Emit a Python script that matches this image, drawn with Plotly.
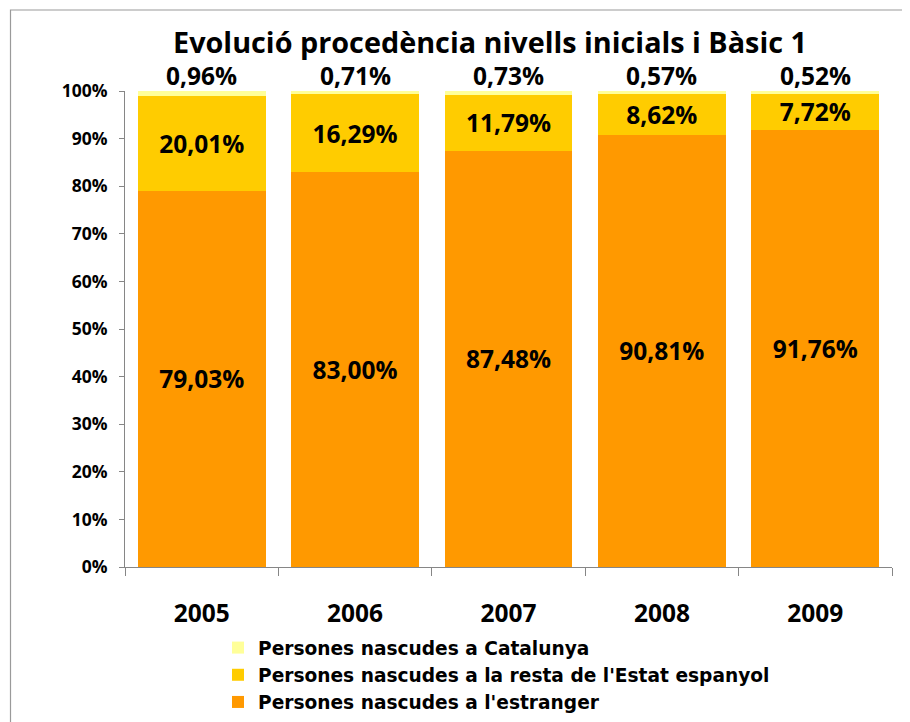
import plotly.graph_objects as go

years = ["2005", "2006", "2007", "2008", "2009"]
estranger = [79.03, 83.00, 87.48, 90.81, 91.76]
resta = [20.01, 16.29, 11.79, 8.62, 7.72]
catalunya = [0.96, 0.71, 0.73, 0.57, 0.52]
y_ticks = [0, 10, 20, 30, 40, 50, 60, 70, 80, 90, 100]

names = ["Persones nascudes a l'estranger",
         "Persones nascudes a la resta de l'Estat espanyol",
         "Persones nascudes a Catalunya"]
colors = ["#FF9900", "#FFCC00", "#FFFF99"]
series = [estranger, resta, catalunya]

FONT = "Open Sans"
OFF = 8  # page body margin
W, H = 910 - OFF, 722 - OFF
ML, MR, MT, MB = 125 - OFF, 18, 91 - OFF, 155
PW, PH = W - ML - MR, H - MT - MB


def fmt(v):
    return f"{v:.2f}".replace(".", ",") + "%"


fig = go.Figure()
for i, (name, col, vals) in enumerate(zip(names, colors, series)):
    inside = i < 2
    fig.add_trace(go.Bar(
        x=years, y=vals, name=name,
        marker=dict(color=col, line=dict(width=0)),
        text=[fmt(v) for v in vals] if inside else None,
        textposition="inside" if inside else "none",
        insidetextanchor="middle",
        constraintext="none",
        textfont=dict(family=FONT, size=24.5, color="black", weight="bold"),
        cliponaxis=False,
        legendgroup=f"g{i}",
        legendrank=3 - i,
        hoverinfo="skip",
    ))

# labels of the top segment, placed just above each stack (x = category index)
totals = [a + b + c for a, b, c in zip(estranger, resta, catalunya)]
annotations = [dict(x=k, y=tot, xref="x", yref="y", text=fmt(v),
                    showarrow=False, yanchor="bottom", yshift=-3,
                    font=dict(family=FONT, size=24.5, color="black", weight="bold"))
               for k, (tot, v) in enumerate(zip(totals, catalunya))]

fig.update_layout(
    width=W, height=H,
    margin=dict(l=ML, r=MR, t=MT, b=MB, pad=0, autoexpand=False),
    paper_bgcolor="white", plot_bgcolor="white",
    barmode="stack", bargap=0.166,
    font=dict(family=FONT, color="black"),
    title=dict(text="<b>Evolució procedència nivells inicials i Bàsic 1</b>",
               x=(490 - OFF) / W, xanchor="center", xref="container",
               y=1 - (43 - OFF) / H, yanchor="middle", yref="container",
               font=dict(family=FONT, size=28.8, color="black")),
    annotations=annotations,
    showlegend=True,
    legend=dict(traceorder="grouped", tracegroupgap=0,
                x=(218 - OFF - ML) / PW, xanchor="left",
                y=-(629 - OFF - (MT + PH)) / PH, yanchor="top",
                font=dict(family="DejaVu Sans", size=18.6, color="black", weight="bold"),
                bgcolor="rgba(0,0,0,0)", borderwidth=0),
    shapes=[dict(type="rect", xref="paper", yref="paper",
                 x0=(10.5 - OFF - ML) / PW, x1=1.05,
                 y0=-0.4, y1=1 + (MT - (10 - OFF)) / PH,
                 line=dict(color="#9a9a9a", width=1.2),
                 fillcolor="rgba(0,0,0,0)", layer="below")],
)

fig.update_xaxes(
    type="category", categoryorder="array", categoryarray=years,
    range=[-0.5, len(years) - 0.5],
    automargin=False,
    showline=True, linecolor="#868686", linewidth=1,
    ticks="outside", tickson="boundaries", ticklen=8, tickcolor="#868686",
    ticklabelstandoff=25,
    tickfont=dict(family=FONT, size=24.5, color="black", weight="bold"),
    showgrid=False, zeroline=False,
)
fig.update_yaxes(
    automargin=False,
    range=[0, 100.01], tickvals=y_ticks, ticktext=[f"{v}%" for v in y_ticks],
    showline=True, linecolor="#868686", linewidth=1,
    ticks="outside", ticklen=5, tickcolor="#868686",
    ticklabelstandoff=8,
    tickfont=dict(family=FONT, size=17.5, color="black", weight="bold"),
    showgrid=False, zeroline=False,
)

fig.write_html("out.html")
